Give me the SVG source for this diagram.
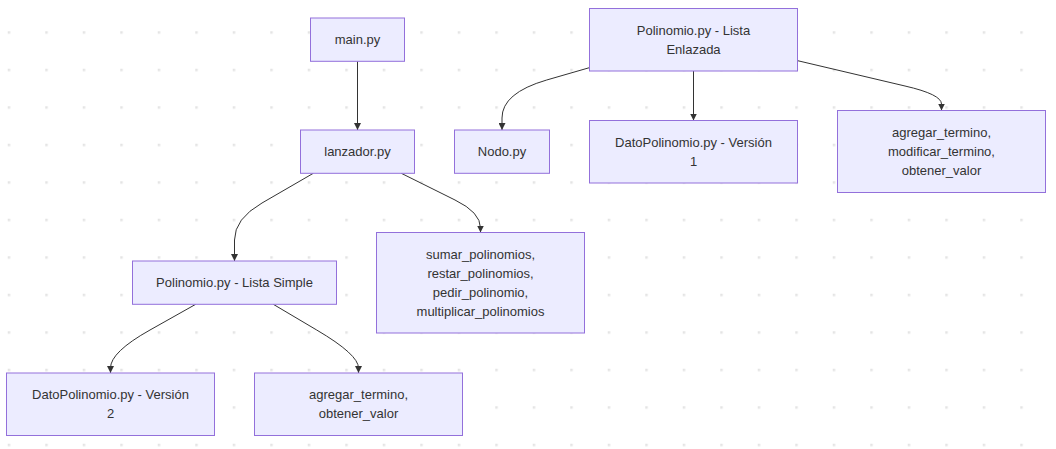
<svg xmlns="http://www.w3.org/2000/svg" width="1056" height="449" viewBox="0 0 1056 449">
<style>
.node rect{fill:#ECECFF;stroke:#9370DB;stroke-width:1}
.node text{font-family:"Liberation Sans",Arial,sans-serif;font-size:13px;fill:#333;text-anchor:middle}
.edge{fill:none;stroke:#333;stroke-width:1}
</style>
<defs>
<pattern id="dots" x="7.75" y="31.25" width="37.5" height="37.5" patternUnits="userSpaceOnUse">
<rect width="2.5" height="2.5" fill="#e4e4e4"/>
</pattern>
<marker id="arrow" viewBox="0 0 10 10" refX="10" refY="5" markerWidth="7" markerHeight="7" markerUnits="userSpaceOnUse" orient="auto">
<path d="M0,0 L10,5 L0,10 z" fill="#333"/>
</marker>
</defs>
<rect width="1056" height="449" fill="#ffffff"/>
<rect width="1056" height="449" fill="url(#dots)"/>
<g id="connectors">
<path class="edge" marker-end="url(#arrow)" d="M357.5,61.3 L357.5,130"/>
<path class="edge" marker-end="url(#arrow)" d="M313.3,173.3 L262,203 Q234.5,218.8 234.5,240 L234.5,261"/>
<path class="edge" marker-end="url(#arrow)" d="M401.3,173.3 L455,200 Q480.5,212.4 480.5,228 L480.5,232.5"/>
<path class="edge" marker-end="url(#arrow)" d="M195.7,304.3 L150,330 Q110.5,352.1 110.5,368 L110.5,373"/>
<path class="edge" marker-end="url(#arrow)" d="M273.3,304.3 L316.7,330 Q358.5,354.6 358.5,368 L358.5,373"/>
<path class="edge" marker-end="url(#arrow)" d="M589.3,67.7 L546.7,80 Q502,93 502,118 L502,130"/>
<path class="edge" marker-end="url(#arrow)" d="M693.5,71 L693.5,120.5"/>
<path class="edge" marker-end="url(#arrow)" d="M797.7,60.7 L905,86 Q941.5,94.4 941.5,104 L941.5,110.5"/>
</g>
<g id="main" class="node"><rect x="310.5" y="18" width="94" height="43.3"/><text x="357.5" y="44.2">main.py</text></g>
<g id="lanzador" class="node"><rect x="300.5" y="130" width="114" height="43.3"/><text x="357.5" y="156.2">lanzador.py</text></g>
<g id="listaSimple" class="node"><rect x="132.5" y="261" width="204" height="43.3"/><text x="234.5" y="287.2">Polinomio.py - Lista Simple</text></g>
<g id="dato2" class="node"><rect x="6.5" y="373" width="208" height="62.5"/><text x="110.5" y="399.25">DatoPolinomio.py - Versión</text><text x="110.5" y="418.25">2</text></g>
<g id="agregar2" class="node"><rect x="254.5" y="373" width="208" height="62.5"/><text x="358.5" y="399.25">agregar_termino,</text><text x="358.5" y="418.25">obtener_valor</text></g>
<g id="sumar" class="node"><rect x="376.5" y="232.5" width="208" height="100.5"/><text x="480.5" y="258.75">sumar_polinomios,</text><text x="480.5" y="277.75">restar_polinomios,</text><text x="480.5" y="296.75">pedir_polinomio,</text><text x="480.5" y="315.75">multiplicar_polinomios</text></g>
<g id="listaEnlazada" class="node"><rect x="589.5" y="8.5" width="208" height="62.5"/><text x="693.5" y="34.75">Polinomio.py - Lista</text><text x="693.5" y="53.75">Enlazada</text></g>
<g id="nodo" class="node"><rect x="454.5" y="130" width="95" height="43.3"/><text x="502" y="156.2">Nodo.py</text></g>
<g id="dato1" class="node"><rect x="589.5" y="120.5" width="208" height="62.5"/><text x="693.5" y="146.75">DatoPolinomio.py - Versión</text><text x="693.5" y="165.75">1</text></g>
<g id="agregar1" class="node"><rect x="837.5" y="110.5" width="208" height="82"/><text x="941.5" y="137">agregar_termino,</text><text x="941.5" y="156">modificar_termino,</text><text x="941.5" y="175">obtener_valor</text></g>
</svg>
